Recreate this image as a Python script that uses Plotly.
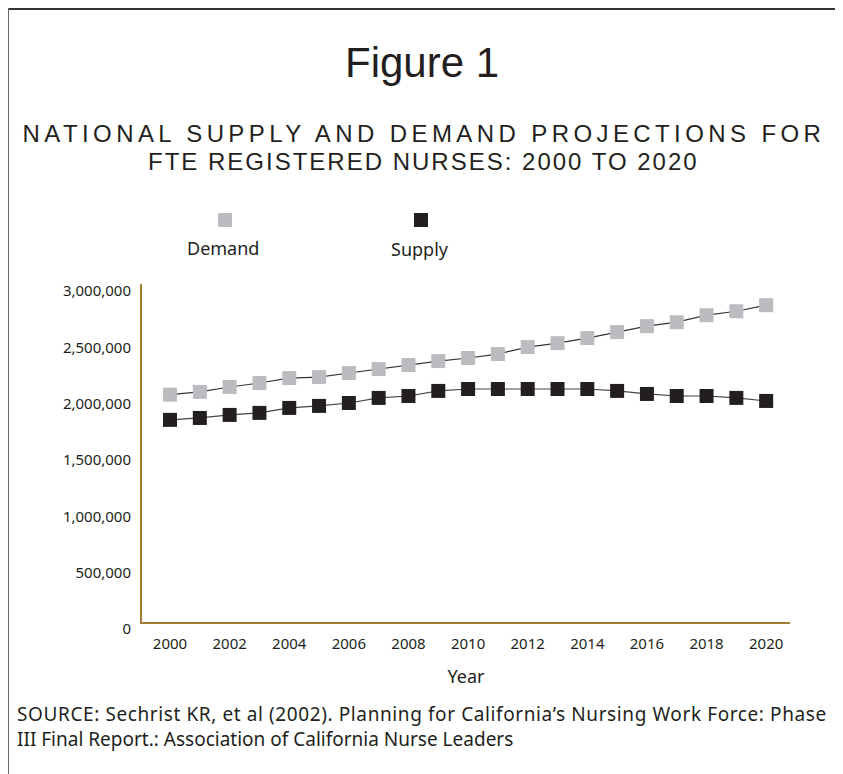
import plotly.graph_objects as go

# Chart data
years = list(range(2000, 2021))
demand = [2018000, 2042000, 2086000, 2121000, 2165000, 2174000, 2210000, 2245000,
          2281000, 2316000, 2343000, 2378000, 2440000, 2475000, 2520000, 2573000,
          2626000, 2661000, 2723000, 2758000, 2812000]
supply = [1794000, 1811000, 1838000, 1856000, 1900000, 1918000, 1944000, 1989000,
          2006000, 2051000, 2068000, 2068000, 2068000, 2068000, 2068000, 2051000,
          2024000, 2006000, 2006000, 1989000, 1962000]
y_ticks = [0, 500000, 1000000, 1500000, 2000000, 2500000, 3000000]
x_ticks = list(range(2000, 2021, 2))

W, H = 843, 774
OFF = 8  # page body margin: screen position = paper position + 8
L, R, T, B = 142 - OFF, 790 - OFF, 284 - OFF, 622 - OFF  # plot area, paper pixels


# helpers take screen pixels and return paper fractions
def px(x):
    return (x - OFF - L) / (R - L)


def py(y):
    return (B - (y - OFF)) / (B - T)


DEMAND_COL = "#bbbcc0"
SUPPLY_COL = "#231f20"
AXIS_COL = "#a07c34"
TXT = "#231f20"
SANS = "'Noto Sans', 'Open Sans', sans-serif"
HEAD = "'Liberation Sans', Arial, sans-serif"

fig = go.Figure()
fig.add_trace(go.Scatter(x=years, y=demand, mode="lines+markers", name="Demand",
                         line=dict(color="#333333", width=1.2),
                         marker=dict(symbol="square", size=14, color=DEMAND_COL)))
fig.add_trace(go.Scatter(x=years, y=supply, mode="lines+markers", name="Supply",
                         line=dict(color="#444444", width=1.2),
                         marker=dict(symbol="square", size=14, color=SUPPLY_COL)))

annotations = [
    dict(text="Figure 1", x=px(422), y=py(62), font=dict(family=HEAD, size=42, color=TXT)),
    dict(text="NATIONAL SUPPLY AND DEMAND PROJECTIONS FOR", x=px(424), y=py(134),
         font=dict(family=HEAD, size=24, color=TXT)),
    dict(text="FTE REGISTERED NURSES: 2000 TO 2020", x=px(423), y=py(162),
         font=dict(family=HEAD, size=24, color=TXT)),
    dict(text="Demand", x=px(223), y=py(248), font=dict(family=SANS, size=18, color=TXT)),
    dict(text="Supply", x=px(420), y=py(249), font=dict(family=SANS, size=18, color=TXT)),
    dict(text="SOURCE: Sechrist KR, et al (2002). Planning for California\u2019s Nursing Work Force: Phase",
         x=px(15), y=py(714), xanchor="left", font=dict(family=SANS, size=19, color=TXT)),
    dict(text="III Final Report.: Association of California Nurse Leaders",
         x=px(15), y=py(739), xanchor="left", font=dict(family=SANS, size=19, color=TXT)),
]
for a in annotations:
    a.setdefault("xanchor", "center")
    a.update(xref="paper", yref="paper", yanchor="middle", showarrow=False)

shapes = [
    # outer frame (top and left edges)
    dict(type="line", xref="paper", yref="paper", x0=px(7), x1=px(W + 20), y0=py(9), y1=py(9),
         line=dict(color="#333333", width=2)),
    dict(type="line", xref="paper", yref="paper", x0=px(8), x1=px(8), y0=py(8), y1=py(H + 20),
         line=dict(color="#666666", width=2)),
    # legend swatches
    dict(type="rect", xref="paper", yref="paper", x0=px(218), x1=px(232), y0=py(213), y1=py(227),
         fillcolor=DEMAND_COL, line=dict(width=0)),
    dict(type="rect", xref="paper", yref="paper", x0=px(414), x1=px(428), y0=py(213), y1=py(227),
         fillcolor=SUPPLY_COL, line=dict(width=0)),
]

fig.update_layout(
    width=W, height=H,
    margin=dict(l=L, r=W - R, t=T, b=H - B, pad=0),
    paper_bgcolor="white", plot_bgcolor="white",
    showlegend=False,
    annotations=annotations,
    shapes=shapes,
    font=dict(family=SANS, color=TXT),
)
fig.update_xaxes(range=[1999.06, 2020.8], tickvals=x_ticks, showgrid=False, zeroline=False,
                 showline=True, linecolor=AXIS_COL, linewidth=2, ticks="",
                 ticklabelstandoff=7, tickfont=dict(family=SANS, size=15, color=TXT),
                 title=dict(text="Year", standoff=18, font=dict(family=SANS, size=18, color=TXT)))
fig.update_yaxes(range=[0, 3000000], tickvals=y_ticks, tickformat=",", showgrid=False,
                 zeroline=False, showline=True, linecolor=AXIS_COL, linewidth=2, ticks="",
                 ticklabelstandoff=6, ticklabelshift=7,
                 tickfont=dict(family=SANS, size=15, color=TXT))

# justified (letter-spaced) lines, as in the original figure;
# the source line is left aligned, so push it back by half the added width
post = """
var gd = document.getElementById('{plot_id}');
var spacing = {NATIONAL: '4.4px', FTE: '2px', SOURCE: '0.6px'};
gd.querySelectorAll('.annotation-text').forEach(function(t){
  var s = t.textContent;
  Object.keys(spacing).forEach(function(k){
    if (s.indexOf(k) !== 0) return;
    var w0 = t.getBBox().width;
    t.style.letterSpacing = spacing[k];
    if (k === 'SOURCE') {
      var w1 = t.getBBox().width;
      var x = parseFloat(t.getAttribute('x') || 0);
      t.setAttribute('x', x + (w1 - w0) / 2);
    }
  });
});
"""
fig.write_html("out.html", post_script=post)
